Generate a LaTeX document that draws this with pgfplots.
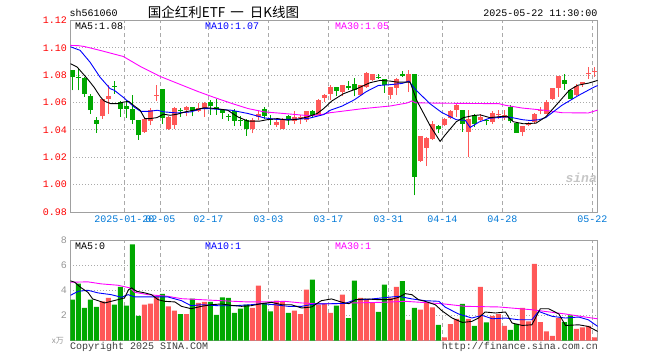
\documentclass[border=0pt]{standalone}
\usepackage{pgfplots}
\pgfplotsset{compat=1.18}
\usepackage{pgfplotstable}
\usepackage{fontspec}
\setmainfont{Liberation Mono}
\newfontfamily\cjk{Noto Sans CJK SC}
\definecolor{cR}{RGB}{255,88,88}
\definecolor{cG}{RGB}{0,168,0}
\definecolor{cB}{RGB}{0,0,255}
\definecolor{cM}{RGB}{255,0,255}
\definecolor{cTick}{RGB}{0,120,215}
\definecolor{cGrid}{RGB}{170,170,170}
\definecolor{cFrame}{RGB}{160,160,160}
\definecolor{cVol}{RGB}{150,150,150}
\definecolor{cTxt}{RGB}{60,60,60}

% i open high low close volume
\pgfplotstableread{
i o h l c v
5 1.0500 1.0629 1.0483 1.0625 3.12
6 1.0627 1.0730 1.0519 1.0646 3.39
12 1.0386 1.0490 1.0380 1.0483 2.85
13 1.0465 1.0560 1.0436 1.0544 2.93
14 1.0650 1.0725 1.0610 1.0658 3.52
16 1.0408 1.0502 1.0400 1.0498 2.72
17 1.0437 1.0565 1.0410 1.0560 2.37
19 1.0549 1.0572 1.0500 1.0566 2.11
21 1.0539 1.0597 1.0530 1.0563 2.99
22 1.0563 1.0603 1.0495 1.0600 3.07
30 1.0405 1.0488 1.0374 1.0471 2.59
31 1.0495 1.0539 1.0471 1.0520 4.37
34 1.0435 1.0476 1.0423 1.0459 3.17
35 1.0410 1.0488 1.0405 1.0483 3.12
37 1.0466 1.0537 1.0447 1.0495 2.37
38 1.0488 1.0512 1.0440 1.0496 2.11
39 1.0471 1.0540 1.0459 1.0537 4.05
41 1.0512 1.0629 1.0508 1.0617 2.85
42 1.0634 1.0666 1.0605 1.0654 2.91
43 1.0666 1.0731 1.0617 1.0714 2.19
45 1.0677 1.0728 1.0648 1.0726 3.65
48 1.0658 1.0728 1.0650 1.0726 3.39
49 1.0714 1.0823 1.0709 1.0818 3.25
50 1.0767 1.0811 1.0757 1.0806 2.99
53 1.0653 1.0716 1.0628 1.0714 3.39
54 1.0709 1.0777 1.0653 1.0774 4.27
56 1.0750 1.0835 1.0677 1.0811 1.65
58 1.0172 1.0357 1.0167 1.0354 2.45
59 1.0271 1.0350 1.0135 1.0344 2.99
60 1.0332 1.0463 1.0325 1.0446 2.64
62 1.0434 1.0486 1.0430 1.0483 0.24
63 1.0490 1.0543 1.0483 1.0536 1.31
64 1.0544 1.0592 1.0495 1.0580 1.73
66 1.0386 1.0544 1.0200 1.0483 1.73
68 1.0471 1.0519 1.0458 1.0495 4.27
70 1.0458 1.0539 1.0446 1.0526 1.97
71 1.0510 1.0544 1.0483 1.0518 2.11
72 1.0490 1.0544 1.0471 1.0507 1.17
75 1.0386 1.0432 1.0354 1.0429 2.59
76 1.0434 1.0458 1.0427 1.0446 1.52
77 1.0458 1.0524 1.0446 1.0514 6.11
78 1.0540 1.0568 1.0514 1.0548 1.47
79 1.0519 1.0616 1.0514 1.0604 0.72
80 1.0629 1.0709 1.0616 1.0706 0.37
81 1.0709 1.0797 1.0641 1.0794 1.79
84 1.0653 1.0738 1.0648 1.0718 0.93
85 1.0733 1.0752 1.0714 1.0750 1.04
86 1.0806 1.0859 1.0774 1.0814 1.17
87 1.0826 1.0859 1.0786 1.0834 0.24
}\redC

\pgfplotstableread{
i o h l c v
0 1.0835 1.0840 1.0689 1.0787 3.25
1 1.0790 1.0848 1.0690 1.0782 4.53
2 1.0782 1.0790 1.0641 1.0665 2.59
3 1.0646 1.0660 1.0515 1.0544 3.25
4 1.0471 1.0495 1.0378 1.0446 2.67
7 1.0722 1.0756 1.0665 1.0714 2.85
8 1.0605 1.0615 1.0495 1.0556 4.27
9 1.0573 1.0620 1.0490 1.0554 2.77
10 1.0551 1.0653 1.0447 1.0471 7.65
11 1.0471 1.0475 1.0328 1.0361 1.97
15 1.0697 1.0700 1.0447 1.0490 3.71
18 1.0546 1.0558 1.0495 1.0538 2.11
20 1.0566 1.0570 1.0500 1.0536 3.33
23 1.0605 1.0622 1.0512 1.0573 3.07
24 1.0568 1.0629 1.0512 1.0556 2.05
25 1.0549 1.0555 1.0483 1.0525 3.44
26 1.0504 1.0520 1.0466 1.0496 3.39
27 1.0537 1.0556 1.0427 1.0466 2.19
28 1.0475 1.0500 1.0427 1.0467 2.53
29 1.0471 1.0483 1.0357 1.0410 2.85
32 1.0551 1.0568 1.0483 1.0500 2.99
33 1.0482 1.0508 1.0435 1.0474 2.32
36 1.0500 1.0508 1.0435 1.0471 2.19
40 1.0537 1.0544 1.0495 1.0508 4.85
44 1.0714 1.0716 1.0648 1.0684 2.77
46 1.0718 1.0755 1.0694 1.0710 1.79
47 1.0733 1.0779 1.0645 1.0694 4.77
51 1.0790 1.0811 1.0774 1.0782 2.27
52 1.0769 1.0772 1.0670 1.0730 4.45
55 1.0811 1.0828 1.0786 1.0791 4.72
57 1.0806 1.0806 0.9922 1.0058 2.59
61 1.0427 1.0434 1.0374 1.0405 1.25
65 1.0544 1.0548 1.0386 1.0446 2.91
67 1.0507 1.0519 1.0422 1.0446 1.17
69 1.0470 1.0483 1.0434 1.0462 1.44
73 1.0568 1.0580 1.0451 1.0463 0.85
74 1.0451 1.0455 1.0380 1.0381 1.33
82 1.0762 1.0806 1.0694 1.0738 1.47
83 1.0694 1.0701 1.0626 1.0629 2.00
}\greenC

\pgfplotsset{
  candle/.style n args={2}{draw=none, mark=none, forget plot,
    error bars/.cd, y dir=plus, y explicit, error mark=none,
    error bar style={draw=#1, line width=#2, solid}},
}

\begin{document}
\begin{tikzpicture}[every node/.style={font=\fontsize{10}{12}\selectfont}]
\path[use as bounding box] (0,0) rectangle (660pt,360pt);

% ---------------- price panel ----------------
\begin{axis}[
  at={(70.3pt,148pt)}, anchor=south west, scale only axis,
  width=527.4pt, height=191.5pt,
  xmin=-0.33, xmax=87.57, ymin=0.98, ymax=1.12,
  axis line style={draw=cFrame, line width=1pt},
  major tick length=0pt,
  xtick={8.67,14.67,22.67,32.67,42.67,52.67,61.67,71.67,86.67},
  xticklabels={2025-01-20,02-05,02-17,03-03,03-17,03-31,04-14,04-28,05-22},
  ytick={0.98,1.00,1.02,1.04,1.06,1.08,1.10,1.12},
  yticklabels={0.98,1.00,1.02,1.04,1.06,1.08,1.10,1.12},
  xticklabel style={text=cTick, font=\fontsize{10}{12}\selectfont},
  yticklabel style={text=red, font=\fontsize{10}{12}\selectfont},
  xmajorgrids, ymajorgrids,
  major x grid style={draw=cGrid, line width=1pt, dash pattern=on 4pt off 3pt},
  major y grid style={draw=cGrid, line width=1pt, dash pattern=on 1pt off 2pt},
]
% wicks
\addplot[candle={cR}{1pt}] table[x=i, y=l, y error plus expr=\thisrow{h}-\thisrow{l}] {\redC};
\addplot[candle={cG}{1pt}] table[x=i, y=l, y error plus expr=\thisrow{h}-\thisrow{l}] {\greenC};
% bodies
\addplot[candle={cR}{4.7pt}] table[x=i, y=o, y error plus expr=\thisrow{c}-\thisrow{o}] {\redC};
\addplot[candle={cG}{4.7pt}] table[x=i, y=c, y error plus expr=\thisrow{o}-\thisrow{c}] {\greenC};
% MA30
\addplot[cM, line width=0.9pt, mark=none] coordinates {
(-0.3,1.1018) (1,1.1016) (2,1.1010) (4.6,1.0982) (8.5,1.0937) (11.5,1.0860) (14.6,1.0792)
(19.1,1.0713) (21,1.0680) (23.5,1.0640) (26.5,1.0595) (29.3,1.0556) (32,1.0532)
(35.3,1.0520) (39.2,1.0505) (41,1.0508) (43,1.0526) (48.5,1.0556) (53,1.0575)
(55.8,1.0597) (56.6,1.0612) (57.2,1.0598) (65,1.0594) (71.1,1.0592) (72.2,1.0580)
(75,1.0560) (78.9,1.0543) (81.6,1.0526) (86,1.0524) (87.57,1.0545)};
% MA10
\addplot[cB, line width=0.9pt, mark=none] coordinates {
(-0.3,1.1008) (1.3,1.0982) (2.95,1.0896) (4.6,1.0787) (6.3,1.0702) (7,1.0690)
(8.6,1.0635) (10.3,1.0568) (11.4,1.0536) (12.8,1.0536) (14.2,1.0544) (15.3,1.0532)
(17.5,1.0524) (19.8,1.0532) (21.5,1.0556) (22.6,1.0556) (24.2,1.0551) (26.5,1.0544)
(29.3,1.0520) (32,1.0488) (34.2,1.0476) (37,1.0478) (39.2,1.0483) (40.8,1.0500)
(41.9,1.0512) (43,1.0544) (45,1.0575) (47,1.0620) (49,1.0680) (51,1.0725) (53,1.0731)
(55,1.0740) (56.1,1.0757) (57.1,1.0700) (59.6,1.0592) (61.5,1.0530) (64,1.0475)
(65.5,1.0470) (66.3,1.0418) (67.8,1.0458) (69.5,1.0485) (72.2,1.0495) (73,1.0493)
(75,1.0475) (76.3,1.0469) (77.8,1.0475) (78.9,1.0490) (81.6,1.0580) (84.4,1.0653)
(87,1.0714) (87.57,1.0725)};
% MA5
\addplot[black, line width=0.9pt, mark=none] coordinates {
(-0.3,1.0884) (0.8,1.0860) (2.5,1.0775) (3.6,1.0714) (4.7,1.0641) (5.3,1.0612)
(6.4,1.0592) (7.5,1.0592) (8.6,1.0604) (9.4,1.0609) (10.2,1.0580) (11.3,1.0544)
(12.1,1.0483) (13,1.0483) (14.1,1.0490) (15.2,1.0515) (16.3,1.0507) (17.5,1.0515)
(18.8,1.0532) (20.2,1.0544) (21.9,1.0561) (22.6,1.0561) (24,1.0556) (25.9,1.0544)
(27.6,1.0495) (29.3,1.0464) (31.2,1.0464) (32.6,1.0476) (34.2,1.0483) (35.9,1.0471)
(37.5,1.0478) (39.2,1.0495) (40.8,1.0520) (41.9,1.0556) (43.2,1.0610) (45.2,1.0665)
(47.4,1.0701) (49.6,1.0745) (51.3,1.0762) (53,1.0757) (54.1,1.0750) (56.3,1.0750)
(57.4,1.0616) (59.6,1.0434) (61.3,1.0316) (62.1,1.0361) (64,1.0460) (65.2,1.0490)
(66.8,1.0505) (68,1.0510) (69.6,1.0490) (71.5,1.0498) (72.5,1.0500) (73.5,1.0460)
(75.2,1.0445) (77.3,1.0450) (78.9,1.0495) (81.1,1.0604) (82.8,1.0689) (84.2,1.0726)
(86.1,1.0743) (87.57,1.0762)};
\end{axis}

% ---------------- volume panel ----------------
\begin{axis}[
  at={(70.3pt,19.5pt)}, anchor=south west, scale only axis,
  width=527.4pt, height=100.5pt,
  xmin=-0.33, xmax=87.57, ymin=0, ymax=8,
  axis line style={draw=cFrame, line width=1pt},
  major tick length=0pt,
  xtick={8.67,14.67,22.67,32.67,42.67,52.67,61.67,71.67,86.67},
  xticklabels={},
  ytick={2,4,6,8}, yticklabels={2,4,6,8},
  yticklabel style={text=cVol, font=\fontsize{10}{12}\selectfont},
  xmajorgrids, ymajorgrids,
  major x grid style={draw=cGrid, line width=1pt, dash pattern=on 4pt off 3pt},
  major y grid style={draw=cGrid, line width=1pt, dash pattern=on 1pt off 2pt},
]
\addplot[ybar, bar width=5pt, bar shift=0pt, fill=cR, draw=none] table[x=i, y=v] {\redC};
\addplot[ybar, bar width=5pt, bar shift=0pt, fill=cG, draw=none] table[x=i, y=v] {\greenC};
% vol MA30
\addplot[cM, line width=0.9pt, mark=none] coordinates {
(-0.3,4.64) (2.6,4.67) (4.8,4.51) (7.6,4.40) (9.6,4.19) (10.4,3.84) (12.6,3.65)
(15.9,3.52) (18.2,3.33) (21.5,3.25) (27,3.12) (29.3,3.07) (32.6,3.07) (35.4,3.12)
(38.2,2.99) (40.9,2.93) (43.7,2.93) (46.6,2.99) (51.6,3.04) (55.5,3.12) (61.6,2.93)
(65.5,2.72) (71.1,2.67) (76.6,2.45) (82.2,2.11) (86.6,1.79) (87.57,1.73)};
% vol MA10
\addplot[cB, line width=0.9pt, mark=none] coordinates {
(-0.3,3.60) (1,3.92) (2.6,4.00) (4.3,3.79) (6.5,3.65) (8.2,3.44) (9.3,3.65) (10.4,3.47)
(13.7,3.47) (15.9,3.47) (18.2,3.17) (19.8,2.77) (21.5,2.85) (24.3,2.77) (27,2.77)
(29.8,2.85) (31.5,2.93) (33.7,2.85) (36,2.72) (38.2,2.72) (40.4,2.91) (43.2,2.93)
(45.5,2.96) (47.2,3.25) (48.8,3.25) (51.6,3.39) (54.4,3.52) (56.6,3.31) (58.8,3.17)
(61.1,3.12) (62.2,2.64) (64.4,2.11) (66.6,1.79) (68.3,2.00) (70,1.73) (72.2,1.79)
(74.4,1.65) (76.6,1.65) (77.7,2.32) (80,1.92) (82.2,1.79) (84.4,1.87) (86,1.65)
(87.57,1.12)};
% vol MA5
\addplot[black, line width=0.9pt, mark=none] coordinates {
(-0.3,4.75) (0.4,4.64) (1.5,4.19) (2.6,3.84) (3.4,3.31) (4.3,3.17) (5.4,2.99) (6.5,3.12)
(7.6,3.25) (8.7,3.39) (9.4,4.05) (9.9,4.19) (10.7,3.92) (12.1,3.79) (13.2,3.65)
(14.3,3.25) (15.4,3.12) (17.1,3.07) (18.2,2.72) (19.8,2.53) (21.5,2.72) (23.2,2.85)
(24.8,2.91) (26.5,2.80) (28.2,2.72) (29.8,2.77) (31.5,2.93) (33.2,3.04) (34.9,2.85)
(36.5,2.85) (38.2,2.59) (39.9,2.67) (41.5,3.17) (43.2,3.31) (45,3.04) (46.1,2.93)
(47.2,3.25) (48.8,3.31) (51.1,3.25) (53,3.25) (54.4,3.44) (55.5,3.73) (56.6,3.65)
(57.7,3.25) (58.8,3.12) (60.5,2.85) (61.6,2.37) (63.3,1.79) (65,1.44) (66.6,1.52)
(67.7,1.79) (68.8,2.27) (70.5,2.19) (72.2,2.27) (73.3,1.39) (75,1.20) (76.6,1.25)
(78,2.53) (79.4,2.53) (81.1,2.11) (82.2,1.20) (84.4,1.25) (86,1.12) (87.57,0.72)};
\end{axis}

% ---------------- texts ----------------
\node[anchor=west, inner sep=0pt] at (69.5pt,346.7pt) {sh561060};
\node[anchor=center, inner sep=0pt, font=\cjk\fontsize{13.5}{14}\selectfont] at (223.5pt,347.3pt) {国企红利ETF\hspace{5pt}一\hspace{6pt}日K线图};
\node[anchor=east, inner sep=0pt] at (597.7pt,346.7pt) {2025-05-22 11:30:00};
\node[anchor=west, inner sep=0pt] at (75pt,334pt) {MA5:1.08};
\node[anchor=west, inner sep=0pt, text=cB] at (205pt,334pt) {MA10:1.07};
\node[anchor=west, inner sep=0pt, text=cM] at (335pt,334pt) {MA30:1.05};
\node[anchor=west, inner sep=0pt] at (75pt,113.5pt) {MA5:0};
\node[anchor=west, inner sep=0pt, text=cB] at (205pt,113.5pt) {MA10:1};
\node[anchor=west, inner sep=0pt, text=cM] at (335pt,113.5pt) {MA30:1};
\node[anchor=east, inner sep=0pt, text=cVol, font=\cjk\fontsize{8}{9}\selectfont] at (64pt,19pt) {x万};
\node[anchor=west, inner sep=0pt, text=cTxt] at (70pt,13.5pt) {Copyright 2025 SINA.COM};
\node[anchor=east, inner sep=0pt, text=cTxt] at (598pt,13.5pt) {http://finance.sina.com.cn};
\node[anchor=east, inner sep=0pt, text=gray!45, font=\fontsize{13}{14}\selectfont\bfseries\itshape] at (597pt,182pt) {sina};
\end{tikzpicture}
\end{document}
